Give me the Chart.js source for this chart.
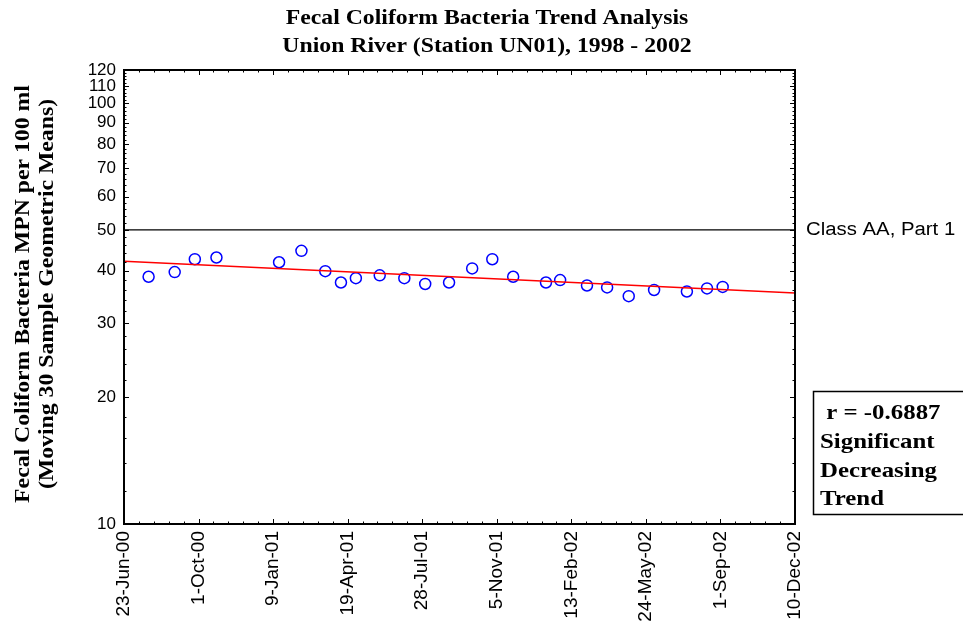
<!DOCTYPE html>
<html>
<head>
<meta charset="utf-8">
<script src="https://cdn.jsdelivr.net/npm/chart.js@4"></script>
<style>
  body { margin: 0; background: #fff; }
</style>
</head>
<body>
<canvas id="trendChart" width="963" height="625"></canvas>
<script>
// sample dates (end of each moving 30-sample window) and the geometric means
const startDate = '2000-06-23';
const sampleDates = [
    '2000-07-26', '2000-08-30', '2000-09-26', '2000-10-25', '2001-01-17',
    '2001-02-16', '2001-03-20', '2001-04-10', '2001-04-30', '2001-06-01',
    '2001-07-04', '2001-08-01', '2001-09-02', '2001-10-03', '2001-10-30',
    '2001-11-27', '2002-01-10', '2002-01-29', '2002-03-06', '2002-04-02',
    '2002-05-01', '2002-06-04', '2002-07-18', '2002-08-14', '2002-09-04'
];
const geoMeans = [
    38.7, 39.7, 42.6, 43.0, 41.9,
    44.6, 39.9, 37.5, 38.4, 39.0,
    38.4, 37.2, 37.5, 40.5, 42.6,
    38.7, 37.5, 38.0, 36.9, 36.5,
    34.8, 36.0, 35.7, 36.3, 36.6
];
const trendDates = ['2000-06-23', '2002-12-10'];
const trendValues = [42.1, 35.4];
const classLimit = 50;

const xTickLabels = ['23-Jun-00', '1-Oct-00', '9-Jan-01', '19-Apr-01', '28-Jul-01',
    '5-Nov-01', '13-Feb-02', '24-May-02', '1-Sep-02', '10-Dec-02'];
const yTickValues = [10, 20, 30, 40, 50, 60, 70, 80, 90, 100, 110, 120];

const toDays = (d) => (Date.parse(d) - Date.parse(startDate)) / 864e5;
const xMax = (xTickLabels.length - 1) * 100;

// the original's lettering is a bit wider than ours, so stretch it sideways
const wideText = (ctx, text, x, y, sx = 1.13) => {
    ctx.save();
    ctx.translate(x, y);
    ctx.scale(sx, 1);
    ctx.fillText(text, 0, 0);
    ctx.restore();
};

// inward ticks on all four sides, frame and the loose text
const decorations = {
    id: 'decorations',
    afterDraw(chart) {
        const { ctx, chartArea: a, scales: { x, y } } = chart;
        ctx.save();
        ctx.strokeStyle = '#000';

        ctx.lineWidth = 1;
        ctx.beginPath();
        for (let v = 10; v <= 120; v += 2) {
            const py = Math.round(y.getPixelForValue(v)) + 0.5;
            const len = yTickValues.includes(v) ? 5 : 2.5;
            ctx.moveTo(a.left, py); ctx.lineTo(a.left + len, py);
            ctx.moveTo(a.right, py); ctx.lineTo(a.right - len, py);
        }
        for (let d = 0; d <= xMax; d += 20) {
            const px = Math.round(x.getPixelForValue(d)) + 0.5;
            const len = d % 100 === 0 ? 5 : 2.5;
            ctx.moveTo(px, a.bottom); ctx.lineTo(px, a.bottom - len);
            ctx.moveTo(px, a.top); ctx.lineTo(px, a.top + len);
        }
        ctx.stroke();

        ctx.lineWidth = 2;
        ctx.strokeRect(a.left, a.top, a.right - a.left, a.bottom - a.top);

        ctx.fillStyle = '#000';
        ctx.textAlign = 'center';
        ctx.textBaseline = 'alphabetic';
        ctx.font = 'bold 21px "Liberation Serif"';
        wideText(ctx, 'Fecal Coliform Bacteria Trend Analysis', 487, 24);
        wideText(ctx, 'Union River (Station UN01), 1998 - 2002', 487, 52);

        ctx.save();
        ctx.translate(0, 294);
        ctx.rotate(-Math.PI / 2);
        wideText(ctx, 'Fecal Coliform Bacteria MPN per 100 ml', 0, 29);
        wideText(ctx, '(Moving 30 Sample Geometric Means)', 0, 53);
        ctx.restore();

        ctx.textAlign = 'left';
        ctx.textBaseline = 'middle';
        ctx.font = '18px "Liberation Sans"';
        wideText(ctx, 'Class AA, Part 1', a.right + 11, y.getPixelForValue(classLimit));

        ctx.lineWidth = 1.5;
        ctx.strokeRect(813.5, 391.5, 160, 123);
        ctx.textBaseline = 'alphabetic';
        ctx.font = 'bold 22px "Liberation Serif"';
        wideText(ctx, ' r = -0.6887', 820, 419);
        wideText(ctx, 'Significant', 820, 448);
        wideText(ctx, 'Decreasing', 820, 477);
        wideText(ctx, 'Trend', 820, 505);
        ctx.restore();
    }
};

new Chart(document.getElementById('trendChart'), {
    type: 'scatter',
    data: {
        datasets: [
            {
                label: 'Class AA',
                type: 'line',
                data: [{ x: 0, y: classLimit }, { x: xMax, y: classLimit }],
                borderColor: '#000',
                borderWidth: 1.2,
                pointRadius: 0
            },
            {
                label: 'Trend',
                type: 'line',
                data: trendDates.map((d, i) => ({ x: toDays(d), y: trendValues[i] })),
                borderColor: '#ff0000',
                borderWidth: 1.5,
                pointRadius: 0
            },
            {
                label: 'Geometric mean',
                data: sampleDates.map((d, i) => ({ x: toDays(d), y: geoMeans[i] })),
                borderColor: '#0000ff',
                backgroundColor: 'rgba(0,0,0,0)',
                pointRadius: 5.5,
                borderWidth: 1.5
            }
        ]
    },
    options: {
        responsive: false,
        animation: false,
        devicePixelRatio: 1,
        layout: { padding: { top: 70, right: 168, left: 0, bottom: 0 } },
        plugins: { legend: { display: false }, tooltip: { enabled: false } },
        scales: {
            x: {
                type: 'linear',
                min: 0,
                max: xMax,
                grid: { display: false, drawTicks: false },
                border: { display: false },
                afterFit: (scale) => { scale.height = 101; },
                ticks: {
                    stepSize: 100,
                    autoSkip: false,
                    maxRotation: 90,
                    minRotation: 90,
                    padding: 7,
                    color: '#000',
                    font: { family: 'Liberation Sans', size: 19 },
                    callback: (v) => xTickLabels[Math.round(v / 100)]
                }
            },
            y: {
                type: 'logarithmic',
                min: 10,
                max: 120,
                grid: { display: false, drawTicks: false },
                border: { display: false },
                afterFit: (scale) => { scale.width = 124; },
                afterBuildTicks: (scale) => { scale.ticks = yTickValues.map(value => ({ value })); },
                ticks: {
                    autoSkip: false,
                    padding: 8,
                    color: '#000',
                    font: { family: 'Liberation Sans', size: 17 },
                    callback: (v) => String(v)
                }
            }
        }
    },
    plugins: [decorations]
});
</script>
</body>
</html>
